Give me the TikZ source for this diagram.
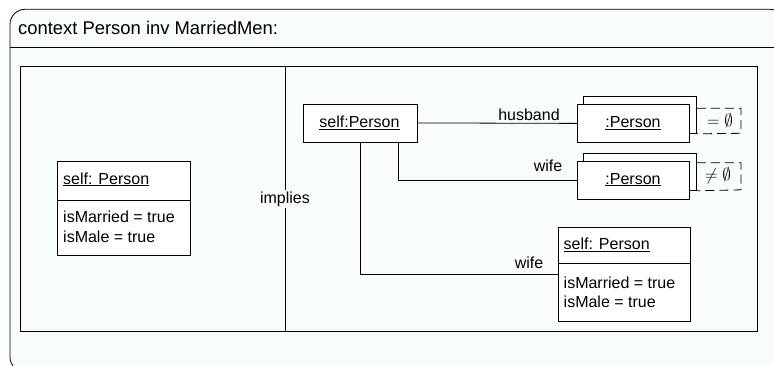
\documentclass[tikz,border=0pt]{standalone}
\usepackage{fontspec}
\setmainfont{Liberation Sans}
\definecolor{bgc}{RGB}{248,252,252}
\tikzset{
  frame/.style={draw, line width=0.8pt},
  box/.style={draw, fill=white, line width=0.8pt, inner sep=0pt, anchor=north west},
  txt/.style={inner sep=0pt, font=\fontsize{16}{19.5}\selectfont},
  conn/.style={draw, line width=0.8pt},
  dashbox/.style={draw, line width=0.8pt, dash pattern=on 9pt off 5pt},
}
\begin{document}
\begin{tikzpicture}[x=1pt,y=-1pt]
\useasboundingbox (0,0) rectangle (774,365);
\clip (0,0) rectangle (774,365);
% outer frame
\path[frame, fill=bgc, rounded corners=15pt] (10,372) rectangle (785,9.3);
\node[inner sep=0pt, anchor=base west, font=\fontsize{18.4}{22}\selectfont] (title) at (18,34.5) {context Person inv MarriedMen:};
\draw[frame] (10,47) -- (785,47);
% inner frame
\draw[frame] (20,66) rectangle (757,331);
\draw[frame] (285,66) -- (285,331);
\node[txt, fill=bgc, inner sep=2pt] (impl) at (285,199) {implies};
% left box
\node[box, minimum width=133pt, minimum height=94pt] (lbox) at (57,161) {};
\draw[frame] ([yshift=-39pt]lbox.north west) -- ([yshift=-39pt]lbox.north east);
\node[txt, anchor=base west] (lhead) at (63,184) {\underline{self: Person}};
\node[txt, anchor=base west] (lat1) at (63,222.5) {isMarried = true};
\node[txt, anchor=base west] (lat2) at (63,242) {isMale = true};
% self:Person
\node[box, minimum width=114pt, minimum height=38pt] (self) at (303,103.5) {};
\node[txt, anchor=base] (selft) at (359.5,127.3) {\underline{self:Person}};
% :Person 1
\node[box, minimum width=113pt, minimum height=37pt] (p1b) at (583,96) {};
\node[box, minimum width=112pt, minimum height=38pt] (p1) at (577,104) {};
\node[txt, anchor=base] (p1t) at (633,127.5) {\underline{:Person}};
\draw[dashbox] (p1b.north east |- 0,108.3) -- (741,108.3) -- (741,133.3) -- (p1b.south east);
\node[txt, anchor=base] (e1) at (720,126.7) {$=\emptyset$};
% :Person 2
\node[box, minimum width=113pt, minimum height=37pt] (p2b) at (583,153) {};
\node[box, minimum width=112pt, minimum height=38pt] (p2) at (577,160.5) {};
\node[txt, anchor=base] (p2t) at (633,184) {\underline{:Person}};
\draw[dashbox] (p2b.north east |- 0,162.7) -- (741,162.7) -- (741,189.8) -- (p2b.south east);
\node[txt, anchor=base] (e2) at (718,180) {$\neq\emptyset$};
% right box
\node[box, minimum width=132pt, minimum height=93.5pt] (rbox) at (558.3,227.3) {};
\draw[frame] ([yshift=-36.3pt]rbox.north west) -- ([yshift=-36.3pt]rbox.north east);
\node[txt, anchor=base west] (rhead) at (563.5,249.3) {\underline{self: Person}};
\node[txt, anchor=base west] (rat1) at (563.5,288.3) {isMarried = true};
\node[txt, anchor=base west] (rat2) at (563.5,307.5) {isMale = true};
% connectors
\draw[conn] (self.east) -- (p1.west);
\node[txt, anchor=base] (lhus) at (529,120.5) {husband};
\draw[conn] ([xshift=-19.5pt]self.south east) |- (p2.west);
\node[txt, anchor=base] (lw1) at (548,171.7) {wife};
\draw[conn] ([xshift=57pt]self.south west) |- (rbox.west);
\node[txt, anchor=base] (lw2) at (529,268) {wife};
\end{tikzpicture}
\end{document}
